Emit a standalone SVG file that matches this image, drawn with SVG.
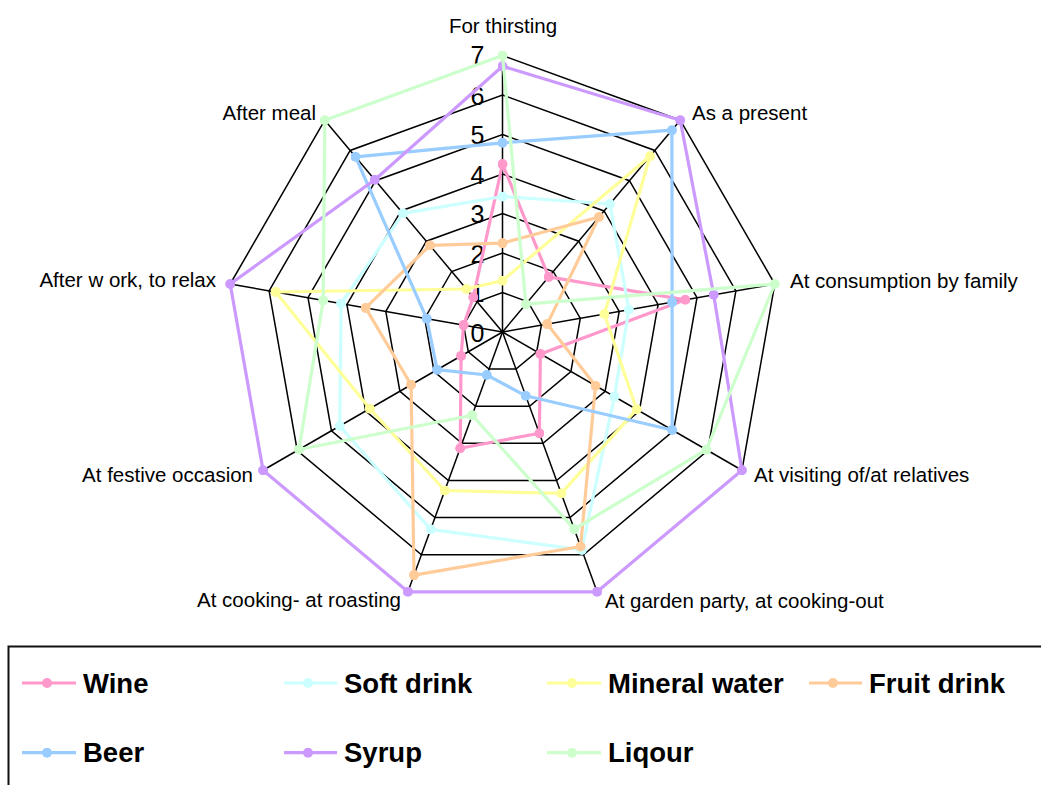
<svg xmlns="http://www.w3.org/2000/svg" width="1041" height="785" viewBox="0 0 1041 785">
<style>
.grid{fill:none;stroke:#000;stroke-width:1.5;stroke-linejoin:miter}
.ax{stroke:#000;stroke-width:1.5}
.s{fill:none;stroke-width:3.2;stroke-linejoin:round}
.lbl{font-family:"Liberation Sans",Arial,sans-serif;font-size:20.5px;fill:#000}
.num{font-family:"Liberation Sans",Arial,sans-serif;font-size:25px;fill:#000}
.leg{font-family:"Liberation Sans",Arial,sans-serif;font-size:27.5px;font-weight:bold;fill:#000}
.wine{stroke:#FF99CC;marker-start:url(#m-wine);marker-mid:url(#m-wine)}
.soft{stroke:#CCFFFF;marker-start:url(#m-soft);marker-mid:url(#m-soft)}
.min{stroke:#FFFF99;marker-start:url(#m-min);marker-mid:url(#m-min)}
.fruit{stroke:#FFCC99;marker-start:url(#m-fruit);marker-mid:url(#m-fruit)}
.beer{stroke:#99CCFF;marker-start:url(#m-beer);marker-mid:url(#m-beer)}
.syrup{stroke:#CC99FF;marker-start:url(#m-syrup);marker-mid:url(#m-syrup)}
.liq{stroke:#CCFFCC;marker-start:url(#m-liq);marker-mid:url(#m-liq)}
.legline{marker-start:none}
</style>
<defs>
<marker id="m-wine" viewBox="-5 -5 10 10" markerWidth="10" markerHeight="10" markerUnits="userSpaceOnUse"><circle r="5" fill="#FF99CC"/></marker>
<marker id="m-soft" viewBox="-5 -5 10 10" markerWidth="10" markerHeight="10" markerUnits="userSpaceOnUse"><circle r="5" fill="#CCFFFF"/></marker>
<marker id="m-min" viewBox="-5 -5 10 10" markerWidth="10" markerHeight="10" markerUnits="userSpaceOnUse"><circle r="5" fill="#FFFF99"/></marker>
<marker id="m-fruit" viewBox="-5 -5 10 10" markerWidth="10" markerHeight="10" markerUnits="userSpaceOnUse"><circle r="5" fill="#FFCC99"/></marker>
<marker id="m-beer" viewBox="-5 -5 10 10" markerWidth="10" markerHeight="10" markerUnits="userSpaceOnUse"><circle r="5" fill="#99CCFF"/></marker>
<marker id="m-syrup" viewBox="-5 -5 10 10" markerWidth="10" markerHeight="10" markerUnits="userSpaceOnUse"><circle r="5" fill="#CC99FF"/></marker>
<marker id="m-liq" viewBox="-5 -5 10 10" markerWidth="10" markerHeight="10" markerUnits="userSpaceOnUse"><circle r="5" fill="#CCFFCC"/></marker>
</defs>
<rect width="1041" height="785" fill="#fff"/>
<g id="grid">
<polygon class="grid" points="502.5,292.5 527.89,301.74 541.4,325.14 536.71,351.75 516.01,369.12 488.99,369.12 468.29,351.75 463.6,325.14 477.11,301.74"/>
<polygon class="grid" points="502.5,253 553.28,271.49 580.3,318.29 570.91,371.5 529.52,406.24 475.48,406.24 434.09,371.5 424.7,318.29 451.72,271.49"/>
<polygon class="grid" points="502.5,213.5 578.67,241.23 619.2,311.43 605.12,391.25 543.03,443.35 461.97,443.35 399.88,391.25 385.8,311.43 426.33,241.23"/>
<polygon class="grid" points="502.5,174 604.06,210.97 658.1,304.57 639.33,411 556.54,480.47 448.46,480.47 365.67,411 346.9,304.57 400.94,210.97"/>
<polygon class="grid" points="502.5,134.5 629.45,180.71 697,297.71 673.54,430.75 570.05,517.59 434.95,517.59 331.46,430.75 308,297.71 375.55,180.71"/>
<polygon class="grid" points="502.5,95 654.84,150.46 735.9,290.86 707.74,450.5 583.55,554.71 421.45,554.71 297.26,450.5 269.1,290.86 350.16,150.46"/>
<polygon class="grid" points="502.5,55.5 680.23,120.2 774.8,284 741.95,470.25 597.06,591.83 407.94,591.83 263.05,470.25 230.2,284 324.77,120.2"/>
<line class="ax" x1="502.5" y1="332" x2="502.5" y2="55.5"/>
<line class="ax" x1="502.5" y1="332" x2="680.23" y2="120.2"/>
<line class="ax" x1="502.5" y1="332" x2="774.8" y2="284"/>
<line class="ax" x1="502.5" y1="332" x2="741.95" y2="470.25"/>
<line class="ax" x1="502.5" y1="332" x2="597.06" y2="591.83"/>
<line class="ax" x1="502.5" y1="332" x2="407.94" y2="591.83"/>
<line class="ax" x1="502.5" y1="332" x2="263.05" y2="470.25"/>
<line class="ax" x1="502.5" y1="332" x2="230.2" y2="284"/>
<line class="ax" x1="502.5" y1="332" x2="324.77" y2="120.2"/>
</g>
<g id="scale">
<text class="num" x="470.5" y="341.5">0</text>
<text class="num" x="470.5" y="302">1</text>
<text class="num" x="470.5" y="262.5">2</text>
<text class="num" x="470.5" y="223">3</text>
<text class="num" x="470.5" y="183.5">4</text>
<text class="num" x="470.5" y="144">5</text>
<text class="num" x="470.5" y="104.5">6</text>
<text class="num" x="470.5" y="64">7</text>
</g>
<g id="series">
<g id="wine"><polygon class="s wine" points="502.5,164.1 548.7,276.9 685.3,299.8 540.4,353.9 539.4,433.3 460.2,448.2 461.1,355.9 463.6,325.1 473.3,297.2"/></g>
<g id="soft-drink"><polygon class="s soft" points="502.5,196.5 609.9,204 628.9,309.7 614.4,396.6 581.8,549.9 430.6,529.4 339.7,426 341.1,303.5 403,213.4"/></g>
<g id="mineral-water"><polygon class="s min" points="502.5,280.6 650,156.2 604.4,314 636.6,409.4 561.3,493.4 444.8,490.5 369.7,408.6 275.7,292 466.4,289"/></g>
<g id="fruit-drink"><polygon class="s fruit" points="502.5,243.1 599,217 547.2,324.1 595.5,385.7 580.6,546.5 414,575.1 411.1,384.7 365.6,307.9 429.9,245.4"/></g>
<g id="beer"><polygon class="s beer" points="502.5,142.8 671.9,130.2 672.1,302.1 672.2,430 525.7,395.8 486.8,375 437.2,369.7 426.7,318.6 355.5,156.8"/></g>
<g id="syrup"><polygon class="s syrup" points="502.5,66.2 680.23,120.2 713.7,294.8 741.95,470.25 597.06,591.83 407.94,591.83 263.05,470.25 230.2,284 374.8,179.8"/></g>
<g id="liqour"><polygon class="s liq" points="502.5,55.5 525.9,304.2 774.8,284 706.4,449.7 574.2,529.1 472.2,415.2 299,449.5 323.2,300.4 324.77,120.2"/></g>
</g>
<g id="axis-labels">
<text class="lbl" x="503" y="33" text-anchor="middle">For thirsting</text>
<text class="lbl" x="692" y="120">As a present</text>
<text class="lbl" x="790" y="288">At consumption by family</text>
<text class="lbl" x="754" y="482">At visiting of/at relatives</text>
<text class="lbl" x="605" y="608">At garden party, at cooking-out</text>
<text class="lbl" x="401" y="607" text-anchor="end">At cooking- at roasting</text>
<text class="lbl" x="253" y="482" text-anchor="end">At festive occasion</text>
<text class="lbl" x="216" y="287" text-anchor="end">After w ork, to relax</text>
<text class="lbl" x="316" y="120" text-anchor="end">After meal</text>
</g>
<g id="legend">
<rect x="8.5" y="646.5" width="1100" height="200" fill="none" stroke="#111" stroke-width="2"/>
<g id="legend-wine"><polyline class="s wine legline" points="22,683 47,683 76,683"/><text class="leg" x="83" y="692.5">Wine</text></g>
<g id="legend-soft"><polyline class="s soft legline" points="284,683 308,683 337,683"/><text class="leg" x="344" y="692.5">Soft drink</text></g>
<g id="legend-min"><polyline class="s min legline" points="547,683 572,683 601,683"/><text class="leg" x="608" y="692.5">Mineral water</text></g>
<g id="legend-fruit"><polyline class="s fruit legline" points="809,683 833,683 862,683"/><text class="leg" x="869" y="692.5">Fruit drink</text></g>
<g id="legend-beer"><polyline class="s beer legline" points="22,752.7 47,752.7 76,752.7"/><text class="leg" x="83" y="762">Beer</text></g>
<g id="legend-syrup"><polyline class="s syrup legline" points="284,752.7 308,752.7 337,752.7"/><text class="leg" x="344" y="762">Syrup</text></g>
<g id="legend-liq"><polyline class="s liq legline" points="547,752.7 572,752.7 601,752.7"/><text class="leg" x="608" y="762">Liqour</text></g>
</g>
</svg>
